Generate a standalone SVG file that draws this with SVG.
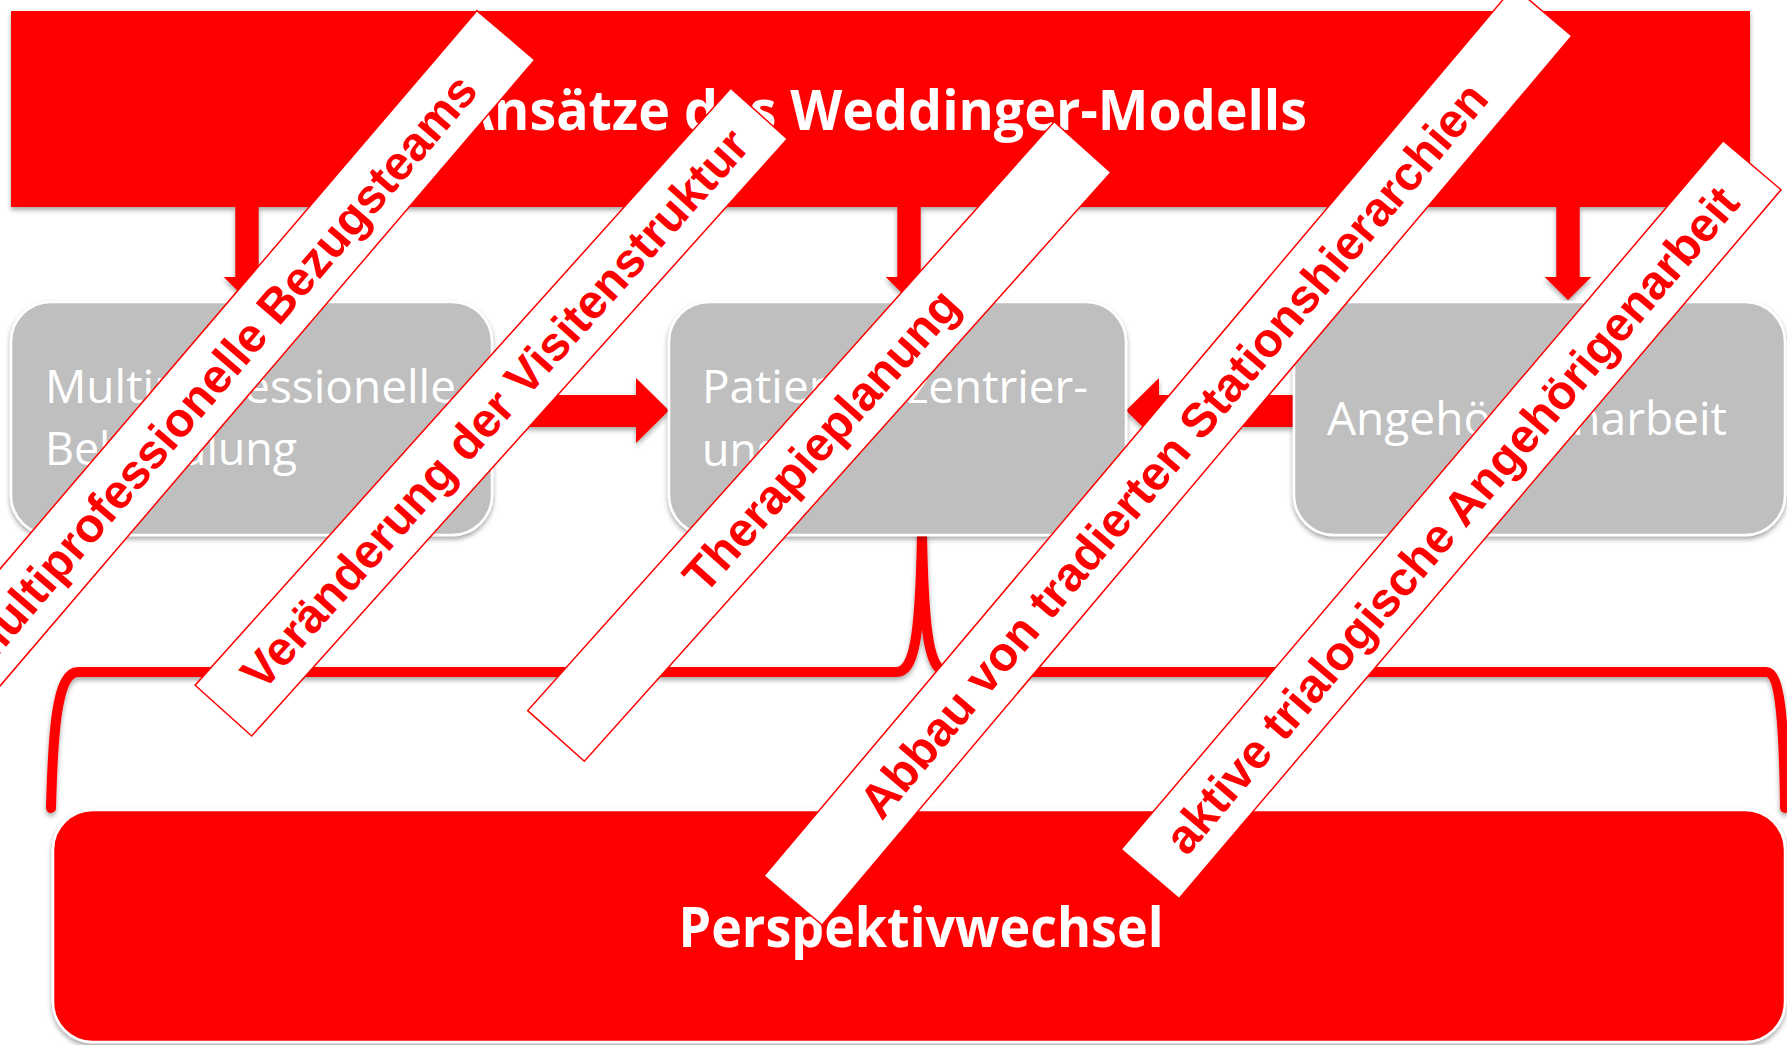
<svg xmlns="http://www.w3.org/2000/svg" width="1787" height="1045" viewBox="0 0 1787 1045">
<defs>
<filter id="sh" x="-5%" y="-10%" width="110%" height="130%">
<feDropShadow dx="0" dy="3" stdDeviation="2.5" flood-color="#000" flood-opacity="0.35"/>
</filter>
<style>
.hdr{fill:#FF0000}
.gbox{fill:#BFBFBF;stroke:#FFFFFF;stroke-width:2.5}
.rbox{fill:#FF0000;stroke:#FFFFFF;stroke-width:2.5}
.btxt{font-family:"Open Sans","Liberation Sans",sans-serif;font-size:46px;fill:#FFFFFF}
.big{font-family:"Open Sans","Liberation Sans",sans-serif;font-weight:bold;font-size:56px;fill:#FFFFFF;text-anchor:middle}
.arr{fill:#FF0000}
.brace{fill:none;stroke:#FF0000;stroke-width:10;stroke-linecap:round;stroke-linejoin:round}
.ban rect{fill:#FFFFFF;stroke:#FF0000;stroke-width:1.5}
.ban text{font-family:"Liberation Sans",Arial,sans-serif;font-weight:bold;font-size:48px;fill:#FF0000;text-anchor:middle}
</style>
</defs>
<rect width="1787" height="1045" fill="#FFFFFF"/>

<g id="header">
<rect x="11" y="11" width="1739" height="196" class="hdr" filter="url(#sh)"/>
<text x="882" y="130" class="big" textLength="850" lengthAdjust="spacingAndGlyphs">Ansätze des Weddinger-Modells</text>
</g>

<g id="connectors" filter="url(#sh)">
<polygon class="arr" points="235.3,207 258.7,207 258.7,277 270.3,277 247,300 223.7,277 235.3,277"/>
<polygon class="arr" points="897.3,207 920.7,207 920.7,277 932.3,277 909,300 885.7,277 897.3,277"/>
<polygon class="arr" points="1556.3,207 1579.7,207 1579.7,277 1591.3,277 1568,300 1544.7,277 1556.3,277"/>
<polygon class="arr" points="492,395 636,395 636,378 669,410.5 636,443 636,427 492,427"/>
<polygon class="arr" points="1294,395 1159,395 1159,378 1126,410.5 1159,443 1159,427 1294,427"/>
<path class="brace" d="M51 808 C53 730 57 672 78 672 L896 672 C914 672 920 640 922 535 C924 640 930 672 948 672 L1766 672 C1780 672 1784 720 1785 808"/>
</g>

<g id="box-multiprofessionelle">
<rect x="11" y="302" width="481" height="233" rx="40" class="gbox" filter="url(#sh)"/>
<text x="45" y="403" class="btxt" textLength="411" lengthAdjust="spacingAndGlyphs">Multiprofessionelle</text>
<text x="45" y="465" class="btxt" textLength="252" lengthAdjust="spacingAndGlyphs">Behandlung</text>
</g>

<g id="box-patientenzentrierung">
<rect x="669" y="302" width="457" height="233" rx="40" class="gbox" filter="url(#sh)"/>
<text x="702" y="403" class="btxt" textLength="386" lengthAdjust="spacingAndGlyphs">Patientenzentrier-</text>
<text x="702" y="466" class="btxt" textLength="79" lengthAdjust="spacingAndGlyphs">ung</text>
</g>

<g id="box-angehoerigenarbeit">
<rect x="1294" y="302" width="491" height="233" rx="40" class="gbox" filter="url(#sh)"/>
<text x="1327" y="435" class="btxt" textLength="400" lengthAdjust="spacingAndGlyphs">Angehörigenarbeit</text>
</g>

<g id="perspektivwechsel">
<rect x="53" y="810" width="1732" height="232" rx="40" class="rbox" filter="url(#sh)"/>
<text x="921" y="947" class="big" textLength="485" lengthAdjust="spacingAndGlyphs">Perspektivwechsel</text>
</g>

<g id="banner-bezugsteams" class="ban" transform="translate(219.4 370.6) rotate(-49.5)">
<rect x="-441" y="-38" width="882" height="76"/>
<text x="1" y="17">Multiprofessionelle Bezugsteams</text>
</g>

<g id="banner-visitenstruktur" class="ban" transform="translate(491.2 412.1) rotate(-48.1)">
<rect x="-401" y="-38" width="802" height="76"/>
<text x="5" y="17">Veränderung der Visitenstruktur</text>
</g>

<g id="banner-therapieplanung" class="ban" transform="translate(819.3 441.5) rotate(-48.2)">
<rect x="-395" y="-38" width="790" height="76"/>
<text x="2" y="17">Therapieplanung</text>
</g>

<g id="banner-stationshierarchien" class="ban" transform="translate(1167.9 455.9) rotate(-49.86)">
<rect x="-581.5" y="-38" width="1163" height="76"/>
<text x="8" y="17">Abbau von tradierten Stationshierarchien</text>
</g>

<g id="banner-angehoerigenarbeit" class="ban" transform="translate(1451.1 519.6) rotate(-49.66)">
<rect x="-465" y="-38" width="930" height="76"/>
<text x="0" y="17">aktive trialogische Angehörigenarbeit</text>
</g>
</svg>
